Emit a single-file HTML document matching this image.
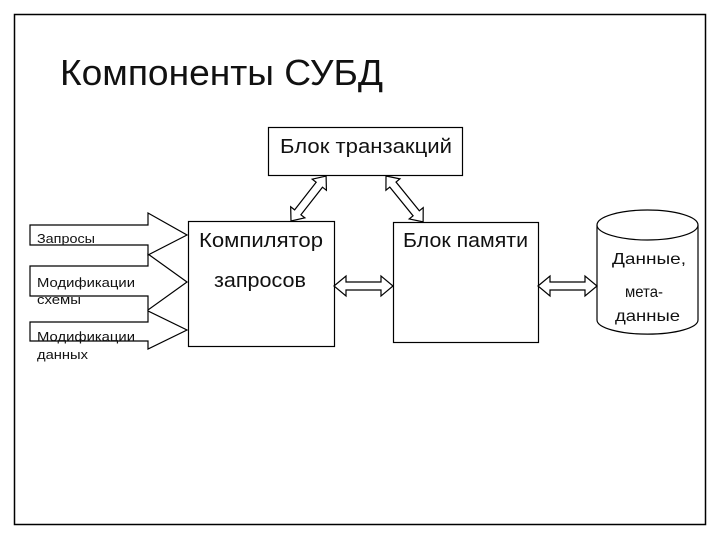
<!DOCTYPE html>
<html><head><meta charset="utf-8"><style>
html,body{margin:0;padding:0;background:#fff;}
svg{display:block;}
text{font-family:"Liberation Sans","DejaVu Sans",sans-serif;fill:#111;}
</style></head><body>
<svg width="720" height="540" viewBox="0 0 720 540" xmlns="http://www.w3.org/2000/svg">
<rect x="14.5" y="14.5" width="691" height="510" fill="#fff" stroke="#000" stroke-width="1.5"/>
<text x="60" y="85" font-size="36" textLength="323" lengthAdjust="spacingAndGlyphs">Компоненты СУБД</text>

<g fill="#fff" stroke="#000" stroke-width="1.2">
<rect x="268.5" y="127.5" width="194" height="48"/>
<rect x="188.5" y="221.5" width="146" height="125"/>
<rect x="393.5" y="222.5" width="145" height="120"/>
<path d="M597,225 L597,320 A50,14 0 0 0 698,320 L698,225"/>
<ellipse cx="647.5" cy="225" rx="50.5" ry="15"/>

<polygon points="30,322 148,322 148,311 187,330 148,349 148,341 30,341" />
<polygon points="30,266 148,266 148,254 187,282 148,310 148,296 30,296" />
<polygon points="30,225 148,225 148,213 187,235 148,255 148,245 30,245" />

<g transform="translate(334,286)"><polygon points="0,0 12,-10 12,-4 47,-4 47,-10 59,0 47,10 47,4 12,4 12,10"/></g>
<g transform="translate(538,286)"><polygon points="0,0 12,-10 12,-4 47,-4 47,-10 59,0 47,10 47,4 12,4 12,10"/></g>
<g transform="translate(291,221) rotate(-52)"><polygon points="0,0 11,-9 11,-4 46,-4 46,-9 57,0 46,9 46,4 11,4 11,9"/></g>
<g transform="translate(386,176) rotate(51)"><polygon points="0,0 11,-9 11,-4 48,-4 48,-9 59,0 48,9 48,4 11,4 11,9"/></g>
</g>

<text x="280" y="153" font-size="20" textLength="172" lengthAdjust="spacingAndGlyphs">Блок транзакций</text>
<text x="199" y="247" font-size="20" textLength="124" lengthAdjust="spacingAndGlyphs">Компилятор</text>
<text x="214" y="287" font-size="20" textLength="92" lengthAdjust="spacingAndGlyphs">запросов</text>
<text x="403" y="247" font-size="20" textLength="125" lengthAdjust="spacingAndGlyphs">Блок памяти</text>
<text x="612" y="264" font-size="16" textLength="74" lengthAdjust="spacingAndGlyphs">Данные,</text>
<text x="625" y="297" font-size="16" textLength="38" lengthAdjust="spacingAndGlyphs">мета-</text>
<text x="615" y="321" font-size="16" textLength="65" lengthAdjust="spacingAndGlyphs">данные</text>

<text x="37" y="243" font-size="13" textLength="58" lengthAdjust="spacingAndGlyphs">Запросы</text>
<text x="37" y="287" font-size="13" textLength="98" lengthAdjust="spacingAndGlyphs">Модификации</text>
<text x="37" y="304" font-size="13" textLength="44" lengthAdjust="spacingAndGlyphs">схемы</text>
<text x="37" y="341" font-size="13" textLength="98" lengthAdjust="spacingAndGlyphs">Модификации</text>
<text x="37" y="359" font-size="13" textLength="51" lengthAdjust="spacingAndGlyphs">данных</text>
</svg>
</body></html>
